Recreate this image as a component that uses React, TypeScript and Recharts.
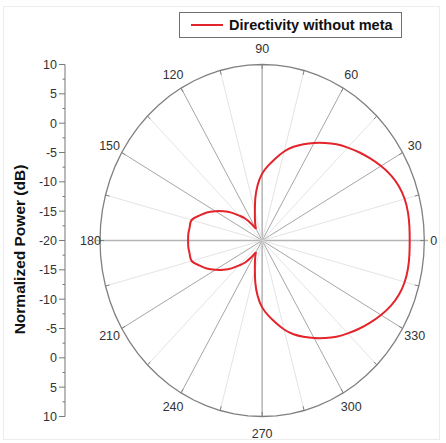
import React from "react";
import { ComposedChart, Line, Scatter, XAxis, YAxis, ReferenceLine, Legend } from "recharts";

// radial scale: centre = -20 dB, rim = 10 dB
const R_MIN = -20;
const R_MAX = 10;
const SPAN = R_MAX - R_MIN;

const seriesName = "Directivity without meta";

const angles = [
  0, 5, 10, 15, 20, 25, 30, 35, 40, 45, 50, 55, 60, 65, 70, 75, 80, 85, 90, 95, 100, 105, 110, 115, 120,
  125, 130, 135, 140, 145, 150, 155, 160, 165, 170, 175, 180, 185, 190, 195, 200, 205, 210, 215, 220, 225,
  230, 235, 240, 245, 250, 255, 260, 265, 270, 275, 280, 285, 290, 295, 300, 305, 310, 315, 320, 325, 330,
  335, 340, 345, 350, 355, 360,
];

const powerDb = [
  7.3, 7.35, 7.4, 7.3, 6.95, 6.3, 5.4, 4.4, 3.4, 2.4, 1.4, 0.3, -0.8, -1.9, -3.0, -4.3, -5.8, -7.2, -8.6, -10.5,
  -12.7, -14.8, -16.1, -17.0, -17.7, -16.5, -15.1, -14.0, -12.6, -11.3, -10.0, -8.7, -7.6, -6.5, -6.4, -6.3,
  -6.3, -6.3, -6.4, -6.5, -7.6, -8.7, -10.0, -11.3, -12.6, -14.0, -15.1, -16.5, -17.7, -17.0, -16.1, -14.8,
  -12.7, -10.5, -8.6, -7.2, -5.8, -4.3, -3.0, -1.9, -0.8, 0.3, 1.4, 2.4, 3.4, 4.4, 5.4, 6.3, 6.95, 7.3, 7.4,
  7.35, 7.3,
];

// the two nulls where the main lobe meets the back lobe
const NULL_A = 120;
const NULL_B = 240;

const spokeAngles = [0, 15, 30, 45, 60, 75, 90, 105, 120, 135, 150, 165, 180, 195, 210, 225, 240, 255, 270, 285, 300, 315, 330, 345];
const labelAngles = [0, 30, 60, 90, 120, 150, 180, 210, 240, 270, 300, 330];
const radialTicks = [
  -30, -27.5, -25, -22.5, -20, -17.5, -15, -12.5, -10, -7.5, -5, -2.5, 0, 2.5, 5, 7.5, 10, 12.5, 15, 17.5, 20,
  22.5, 25, 27.5, 30,
];

const RED = "#e3242b";
const FONT = "'Liberation Sans', Arial, Helvetica, sans-serif";
const X_MIN = -36.475; // leaves room between the radial axis and the circle

const toXY = (deg: number, db: number) => {
  const r = db - R_MIN;
  const t = (deg * Math.PI) / 180;
  return { x: r * Math.cos(t), y: r * Math.sin(t) };
};

const patternData = angles.map((a, i) => ({ angle: a, ...toXY(a, powerDb[i]) }));
// split at the nulls so the cusps stay sharp while each lobe is smoothed
const mainLobe = [
  ...patternData.filter((p) => p.angle >= NULL_B),
  ...patternData.filter((p) => p.angle > 0 && p.angle <= NULL_A),
];
const backLobe = patternData.filter((p) => p.angle >= NULL_A && p.angle <= NULL_B);
const rimData = angles.map((a) => ({ angle: a, ...toXY(a, R_MAX) }));
const labelData = labelAngles.map((a) => ({ angle: a, ...toXY(a, R_MAX) }));

const spokeStyle = (a: number) => {
  if (a % 90 === 0) return { stroke: "#b4b4b4", strokeWidth: 1.5 };
  if (a % 30 === 0) return { stroke: "#a6a6a6", strokeWidth: 1 };
  return { stroke: "#e4e4e4", strokeWidth: 1 };
};

const RadialTick = (props: any) => {
  const { x, y, payload } = props;
  const v = payload.value;
  const major = Math.abs(v % 5) < 1e-6;
  return (
    <g>
      <line x1={x + (major ? 2 : 5.5)} x2={x + 8} y1={y} y2={y} stroke="#7a7a7a" strokeWidth={1} />
      {major && (
        <text x={x} y={y} dy="0.36em" textAnchor="end" fontSize={12.5} fontFamily={FONT} fill="#333">
          {Math.abs(v) + R_MIN}
        </text>
      )}
    </g>
  );
};

const AxisTitle = (props: any) => {
  const vb = props.viewBox ?? { x: 20, y: 64.5, width: 45, height: 352 };
  const cx = vb.x + 4.5;
  const cy = vb.y + vb.height / 2 + 9;
  return (
    <text
      x={0}
      y={0}
      transform={`translate(${cx},${cy}) rotate(-90)`}
      textAnchor="middle"
      fontSize={15.5}
      fontWeight={700}
      fontFamily={FONT}
      fill="#111"
    >
      Normalized Power (dB)
    </text>
  );
};

const AngleLabel = (props: any) => {
  const { cx, cy, payload } = props;
  const t = (payload.angle * Math.PI) / 180;
  const s = Math.abs(Math.sin(t));
  const off = 9.5 + 11 * s - 4 * s * s;
  return (
    <text
      x={cx + off * Math.cos(t)}
      y={cy - off * Math.sin(t)}
      dy="0.36em"
      textAnchor="middle"
      fontSize={12.5}
      fontFamily={FONT}
      fill="#333"
    >
      {payload.angle}
    </text>
  );
};

const LegendBox = (props: any) => {
  const item = (props.payload || []).find((p: any) => p.value === seriesName) ?? { color: RED, value: seriesName };
  return (
    <div
      style={{
        boxSizing: "border-box",
        width: 223,
        height: 25.5,
        border: "1px solid #707070",
        background: "#fff",
        display: "flex",
        alignItems: "center",
        fontFamily: FONT,
        fontWeight: 700,
        fontSize: 14.5,
        color: "#111",
        whiteSpace: "nowrap",
      }}
    >
      <svg width={32} height={4} style={{ marginLeft: 11, marginRight: 6 }}>
        <line x1={0} x2={32} y1={2} y2={2} stroke={item.color} strokeWidth={2} />
      </svg>
      <span>{item.value}</span>
    </div>
  );
};

export default function App() {
  return (
    <div style={{ position: "absolute", left: 0, top: 0, width: 446, height: 443, background: "#fff" }}>
      <div
        style={{
          position: "absolute",
          left: 3,
          top: 5.5,
          width: 437,
          height: 434,
          border: "1px solid #ececec",
          boxSizing: "border-box",
        }}
      />
      <div style={{ position: "absolute", left: 0, top: 0 }}>
        <ComposedChart width={446} height={443} margin={{ top: 64.5, right: 21.7, bottom: 26.5, left: 20 }}>
          <XAxis type="number" dataKey="x" domain={[X_MIN, SPAN]} hide />
          <YAxis
            type="number"
            dataKey="y"
            domain={[-SPAN, SPAN]}
            ticks={radialTicks}
            interval={0}
            width={45}
            tickSize={6}
            tickMargin={2}
            tickLine={false}
            tick={<RadialTick />}
            axisLine={{ stroke: "#8a8a8a", strokeWidth: 1.2 }}
            label={AxisTitle}
          />
          {spokeAngles.map((a) => {
            const ext = a % 180 === 0 ? R_MAX + 0.7 : R_MAX;
            return (
              <ReferenceLine
                key={`spoke-${a}`}
                segment={[toXY(a, R_MIN), toXY(a, ext)]}
                ifOverflow="visible"
                {...spokeStyle(a)}
              />
            );
          })}
          {spokeAngles.map((a) => (
            <ReferenceLine
              key={`rimtick-${a}`}
              segment={[toXY(a, R_MAX - 0.75), toXY(a, R_MAX)]}
              ifOverflow="visible"
              stroke="#808080"
              strokeWidth={1}
            />
          ))}
          <Line
            data={rimData}
            dataKey="y"
            type="linear"
            stroke="#808080"
            strokeWidth={1.3}
            dot={false}
            activeDot={false}
            legendType="none"
            isAnimationActive={false}
          />
          <Line
            data={mainLobe}
            dataKey="y"
            name={seriesName}
            type="natural"
            stroke={RED}
            strokeWidth={2}
            dot={false}
            activeDot={false}
            isAnimationActive={false}
          />
          <Line
            data={backLobe}
            dataKey="y"
            name={`${seriesName} (back lobe)`}
            type="natural"
            stroke={RED}
            strokeWidth={2}
            dot={false}
            activeDot={false}
            legendType="none"
            isAnimationActive={false}
          />
          <Scatter
            data={labelData}
            dataKey="y"
            legendType="none"
            shape={<AngleLabel />}
            isAnimationActive={false}
          />
          <Legend
            layout="horizontal"
            align="center"
            verticalAlign="middle"
            content={<LegendBox />}
            wrapperStyle={{ left: 179, top: 12, width: 223, height: 26 }}
          />
        </ComposedChart>
      </div>
    </div>
  );
}
